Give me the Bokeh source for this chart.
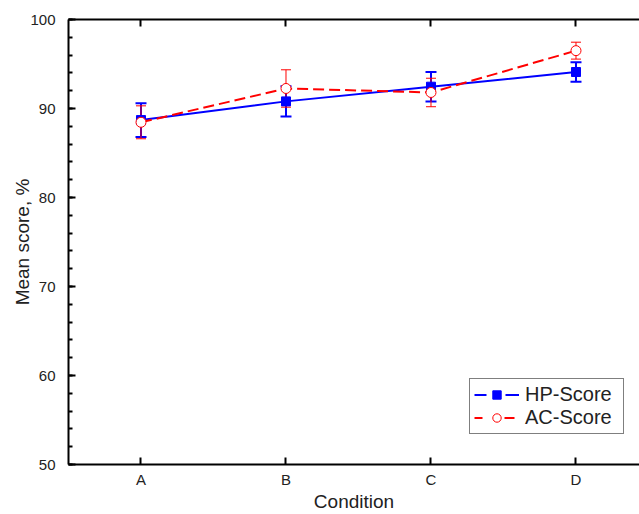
from bokeh.plotting import figure
from bokeh.models import (Range1d, LinearAxis, FixedTicker, SingleIntervalTicker,
                          ColumnDataSource, Whisker, TeeHead, Legend, LegendItem)
from bokeh.embed import file_html
from bokeh.resources import INLINE

conditions = ["A", "B", "C", "D"]
hp_mean = [88.7, 90.8, 92.45, 94.1]
hp_err = [1.9, 1.7, 1.65, 1.1]
ac_mean = [88.45, 92.25, 91.8, 96.5]
ac_err = [1.85, 2.1, 1.6, 0.95]

x = list(range(1, len(conditions) + 1))
FONT = "Liberation Sans"
TXT = "#222222"
BLUE = "#0000ff"
RED = "#ff0000"
NAN = float("nan")

hp_src = ColumnDataSource(dict(x=x, y=hp_mean,
                               lo=[m - e for m, e in zip(hp_mean, hp_err)],
                               hi=[m + e for m, e in zip(hp_mean, hp_err)]))
ac_src = ColumnDataSource(dict(x=x, y=ac_mean,
                               lo=[m - e for m, e in zip(ac_mean, ac_err)],
                               hi=[m + e for m, e in zip(ac_mean, ac_err)]))

p = figure(width=639, height=514, x_range=Range1d(0.5, 4.438), y_range=Range1d(50, 100),
           output_backend="svg", toolbar_location=None,
           min_border_left=68, min_border_right=0, min_border_top=19, min_border_bottom=50)
p.outline_line_color = None
p.xgrid.visible = False
p.ygrid.visible = False
p.background_fill_color = "white"
p.border_fill_color = "white"

# axes
xax = p.xaxis[0]
xax.ticker = FixedTicker(ticks=x, minor_ticks=[])
xax.major_label_overrides = {i: c for i, c in zip(x, conditions)}
yax = p.yaxis[0]
yax.ticker = SingleIntervalTicker(interval=10, num_minor_ticks=5)
for ax in (xax, yax):
    ax.axis_line_width = 2
    ax.axis_line_color = "black"
    ax.major_tick_in = 7
    ax.major_tick_out = 0
    ax.minor_tick_in = 4
    ax.minor_tick_out = 0
    ax.major_tick_line_width = 2
    ax.minor_tick_line_width = 2
    ax.major_label_text_font = FONT
    ax.major_label_text_font_size = "15px"
    ax.major_label_text_color = TXT
    ax.axis_label_text_font = FONT
    ax.axis_label_text_font_size = "19px"
    ax.axis_label_text_font_style = "normal"
    ax.axis_label_text_color = TXT
xax.axis_label = "Condition"
yax.axis_label = "Mean score, %"
xax.major_label_standoff = 6
xax.axis_label_standoff = 0
yax.major_label_standoff = 13
yax.axis_label_standoff = -6

top = LinearAxis(ticker=FixedTicker(ticks=x, minor_ticks=[]),
                 axis_line_width=2, major_tick_in=7, major_tick_out=0,
                 major_tick_line_width=2, major_label_text_color=None,
                 major_label_standoff=0)
p.add_layout(top, "above")

# HP series
hp_line = p.line("x", "y", source=hp_src, line_color=BLUE, line_width=2)
p.add_layout(Whisker(base="x", upper="hi", lower="lo", source=hp_src, dimension="height",
                     line_color=BLUE, line_width=2,
                     upper_head=TeeHead(size=11, line_color=BLUE, line_width=2),
                     lower_head=TeeHead(size=11, line_color=BLUE, line_width=2)))
hp_pts = p.scatter("x", "y", source=hp_src, marker="square", size=9,
                   fill_color=BLUE, line_color=BLUE)

# AC series
ac_line = p.line("x", "y", source=ac_src, line_color=RED, line_width=2, line_dash="11 5")
p.add_layout(Whisker(base="x", upper="hi", lower="lo", source=ac_src, dimension="height",
                     line_color=RED, line_width=1,
                     upper_head=TeeHead(size=10, line_color=RED, line_width=1),
                     lower_head=TeeHead(size=10, line_color=RED, line_width=1)))
ac_pts = p.scatter("x", "y", source=ac_src, marker="circle", size=10,
                   fill_color="white", line_color=RED, line_width=1)

# legend-only glyph styles (no visible data)
hp_leg_line = p.line([NAN], [NAN], line_color=BLUE, line_width=2, line_dash="12 19 14 19")
hp_leg_pt = p.scatter([NAN], [NAN], marker="square", size=8, fill_color=BLUE, line_color=BLUE)
ac_leg_line = p.line([NAN], [NAN], line_color=RED, line_width=2, line_dash="8 22 10 22")
ac_leg_pt = p.scatter([NAN], [NAN], marker="circle", size=8, fill_color="white",
                      line_color=RED, line_width=1)

legend = Legend(items=[LegendItem(label="HP-Score", renderers=[hp_leg_line, hp_leg_pt]),
                       LegendItem(label="AC-Score", renderers=[ac_leg_line, ac_leg_pt])],
                location=(401, 30), glyph_width=45, glyph_height=21,
                label_text_font=FONT, label_text_font_size="20px", label_text_color=TXT,
                label_height=21, label_width=94,
                border_line_color="black", border_line_width=1,
                padding=4, spacing=0, margin=0, label_standoff=6,
                background_fill_alpha=1)
p.add_layout(legend, "center")

open("out.html", "w").write(file_html(p, INLINE))
